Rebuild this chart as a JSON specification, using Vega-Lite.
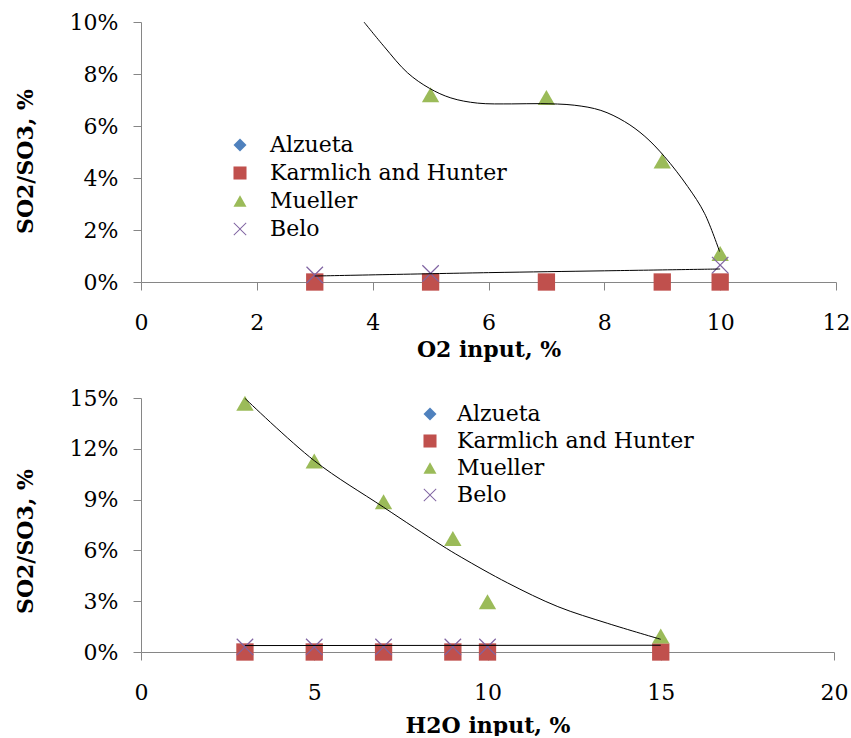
{
  "$schema": "https://vega.github.io/schema/vega-lite/v6.json",
  "padding": {"left": 13, "top": 11, "right": 5, "bottom": 0},
  "background": "white",
  "config": {
    "font": "DejaVu Serif",
    "view": {"stroke": null},
    "axis": {
      "grid": false,
      "labelFlush": false,
      "domainColor": "#868686",
      "tickColor": "#868686",
      "tickSize": 8,
      "labelFont": "DejaVu Serif",
      "labelFontSize": 22,
      "labelColor": "black",
      "titleFont": "DejaVu Serif",
      "titleFontSize": 22,
      "titleFontWeight": "bold",
      "titleColor": "black"
    },
    "legend": {
      "labelFont": "DejaVu Serif",
      "labelFontSize": 22,
      "labelColor": "black",
      "labelLimit": 0,
      "symbolSize": 170,
      "symbolStrokeWidth": 0,
      "padding": 0,
      "rowPadding": 6,
      "labelOffset": 16,
      "title": null,
      "orient": "none"
    }
  },
  "datasets": {
    "o2pts": [
      {"x": 3, "y": 0, "series": "Karmlich and Hunter"},
      {"x": 5, "y": 0, "series": "Karmlich and Hunter"},
      {"x": 7, "y": 0, "series": "Karmlich and Hunter"},
      {"x": 9, "y": 0, "series": "Karmlich and Hunter"},
      {"x": 10, "y": 0, "series": "Karmlich and Hunter"},
      {"x": 5, "y": 0.072, "series": "Mueller"},
      {"x": 7, "y": 0.071, "series": "Mueller"},
      {"x": 9, "y": 0.0465, "series": "Mueller"},
      {"x": 10, "y": 0.011, "series": "Mueller"},
      {"x": 3, "y": 0.0027, "series": "Belo"},
      {"x": 5, "y": 0.0033, "series": "Belo"},
      {"x": 10, "y": 0.0065, "series": "Belo"}
    ],
    "o2trend": [
      {"x": 3.85, "y": 0.1, "series": "Mueller"},
      {"x": 4.2, "y": 0.0905, "series": "Mueller"},
      {"x": 4.6, "y": 0.0805, "series": "Mueller"},
      {"x": 4.98, "y": 0.0745, "series": "Mueller"},
      {"x": 5.35, "y": 0.0708, "series": "Mueller"},
      {"x": 5.81, "y": 0.0688, "series": "Mueller"},
      {"x": 6.4, "y": 0.0685, "series": "Mueller"},
      {"x": 6.9, "y": 0.0686, "series": "Mueller"},
      {"x": 7.48, "y": 0.068, "series": "Mueller"},
      {"x": 7.94, "y": 0.066, "series": "Mueller"},
      {"x": 8.35, "y": 0.0617, "series": "Mueller"},
      {"x": 8.7, "y": 0.056, "series": "Mueller"},
      {"x": 9.04, "y": 0.0482, "series": "Mueller"},
      {"x": 9.44, "y": 0.0367, "series": "Mueller"},
      {"x": 9.73, "y": 0.0264, "series": "Mueller"},
      {"x": 9.99, "y": 0.0117, "series": "Mueller"},
      {"x": 3, "y": 0.0023, "series": "Belo"},
      {"x": 6, "y": 0.0036, "series": "Belo"},
      {"x": 8, "y": 0.0043, "series": "Belo"},
      {"x": 10, "y": 0.005, "series": "Belo"}
    ],
    "h2opts": [
      {"x": 3, "y": 0, "series": "Karmlich and Hunter"},
      {"x": 5, "y": 0, "series": "Karmlich and Hunter"},
      {"x": 7, "y": 0, "series": "Karmlich and Hunter"},
      {"x": 9, "y": 0, "series": "Karmlich and Hunter"},
      {"x": 10, "y": 0, "series": "Karmlich and Hunter"},
      {"x": 15, "y": 0, "series": "Karmlich and Hunter"},
      {"x": 3, "y": 0.1469, "series": "Mueller"},
      {"x": 5, "y": 0.1128, "series": "Mueller"},
      {"x": 7, "y": 0.0888, "series": "Mueller"},
      {"x": 9, "y": 0.067, "series": "Mueller"},
      {"x": 10, "y": 0.0297, "series": "Mueller"},
      {"x": 15, "y": 0.0094, "series": "Mueller"},
      {"x": 3, "y": 0.003, "series": "Belo"},
      {"x": 5, "y": 0.003, "series": "Belo"},
      {"x": 7, "y": 0.003, "series": "Belo"},
      {"x": 9, "y": 0.003, "series": "Belo"},
      {"x": 10, "y": 0.003, "series": "Belo"}
    ],
    "h2otrend": [
      {"x": 3, "y": 0.1498, "series": "Mueller"},
      {"x": 5, "y": 0.113, "series": "Mueller"},
      {"x": 7, "y": 0.0855, "series": "Mueller"},
      {"x": 8.66, "y": 0.0632, "series": "Mueller"},
      {"x": 9.24, "y": 0.056, "series": "Mueller"},
      {"x": 10.58, "y": 0.0408, "series": "Mueller"},
      {"x": 12.03, "y": 0.0268, "series": "Mueller"},
      {"x": 13.47, "y": 0.0169, "series": "Mueller"},
      {"x": 15, "y": 0.0075, "series": "Mueller"},
      {"x": 3, "y": 0.0038, "series": "Belo"},
      {"x": 15, "y": 0.004, "series": "Belo"}
    ]
  },
  "vconcat": [
    {
      "width": 695,
      "height": 260,
      "layer": [
        {
          "data": {"name": "o2pts"},
          "mark": {"type": "point", "filled": true, "opacity": 1, "size": 300},
          "encoding": {
            "x": {"field": "x", "type": "quantitative",
                  "scale": {"domain": [0, 12], "nice": false},
                  "axis": {"values": [0, 2, 4, 6, 8, 10, 12], "format": "d", "title": "O2 input, %", "labelPadding": 22, "titlePadding": 6}},
            "y": {"field": "y", "type": "quantitative",
                  "scale": {"domain": [0, 0.1], "nice": false},
                  "axis": {"values": [0, 0.02, 0.04, 0.06, 0.08, 0.1], "format": ".0%", "title": "SO2/SO3, %", "labelPadding": 15, "titleX": -104, "titleY": 139}},
            "color": {"field": "series", "type": "nominal",
                      "scale": {"domain": ["Alzueta", "Karmlich and Hunter", "Mueller", "Belo"], "range": ["#4F81BD", "#C0504D", "#9BBB59", "#8064A2"]},
                      "legend": {"legendX": 88, "legendY": 112, "labelOffset": 19}},
            "shape": {"field": "series", "type": "nominal",
                      "scale": {"domain": ["Alzueta", "Karmlich and Hunter", "Mueller", "Belo"], "range": ["diamond", "square", "triangle-up", "M-1,-0.9L-0.9,-1L0,-0.1L0.9,-1L1,-0.9L0.1,0L1,0.9L0.9,1L0,0.1L-0.9,1L-1,0.9L-0.1,0Z"]},
                      "legend": {"legendX": 88, "legendY": 112, "labelOffset": 19}}
          }
        },
        {
          "data": {"name": "o2trend"},
          "mark": {"type": "line", "color": "black", "strokeWidth": 1, "interpolate": "catmull-rom", "clip": true},
          "encoding": {
            "x": {"field": "x", "type": "quantitative"},
            "y": {"field": "y", "type": "quantitative"},
            "detail": {"field": "series", "type": "nominal"}
          }
        }
      ]
    },
    {
      "width": 693,
      "height": 254,
      "layer": [
        {
          "data": {"name": "h2opts"},
          "mark": {"type": "point", "filled": true, "opacity": 1, "size": 300},
          "encoding": {
            "x": {"field": "x", "type": "quantitative",
                  "scale": {"domain": [0, 20], "nice": false},
                  "axis": {"values": [0, 5, 10, 15, 20], "format": "d", "title": "H2O input, %", "labelPadding": 22, "titlePadding": 12}},
            "y": {"field": "y", "type": "quantitative",
                  "scale": {"domain": [0, 0.15], "nice": false},
                  "axis": {"values": [0, 0.03, 0.06, 0.09, 0.12, 0.15], "format": ".0%", "title": "SO2/SO3, %", "labelPadding": 15, "titleX": -104, "titleY": 143}},
            "color": {"field": "series", "type": "nominal",
                      "scale": {"domain": ["Alzueta", "Karmlich and Hunter", "Mueller", "Belo"], "range": ["#4F81BD", "#C0504D", "#9BBB59", "#8064A2"]},
                      "legend": {"legendX": 278, "legendY": 5, "rowPadding": 5}},
            "shape": {"field": "series", "type": "nominal",
                      "scale": {"domain": ["Alzueta", "Karmlich and Hunter", "Mueller", "Belo"], "range": ["diamond", "square", "triangle-up", "M-1,-0.9L-0.9,-1L0,-0.1L0.9,-1L1,-0.9L0.1,0L1,0.9L0.9,1L0,0.1L-0.9,1L-1,0.9L-0.1,0Z"]},
                      "legend": {"legendX": 278, "legendY": 5, "rowPadding": 5}}
          }
        },
        {
          "data": {"name": "h2otrend"},
          "mark": {"type": "line", "color": "black", "strokeWidth": 1, "interpolate": "catmull-rom", "clip": true},
          "encoding": {
            "x": {"field": "x", "type": "quantitative"},
            "y": {"field": "y", "type": "quantitative"},
            "detail": {"field": "series", "type": "nominal"}
          }
        }
      ]
    }
  ],
  "spacing": 27,
  "resolve": {"scale": {"color": "independent", "shape": "independent", "x": "independent", "y": "independent"}}
}
